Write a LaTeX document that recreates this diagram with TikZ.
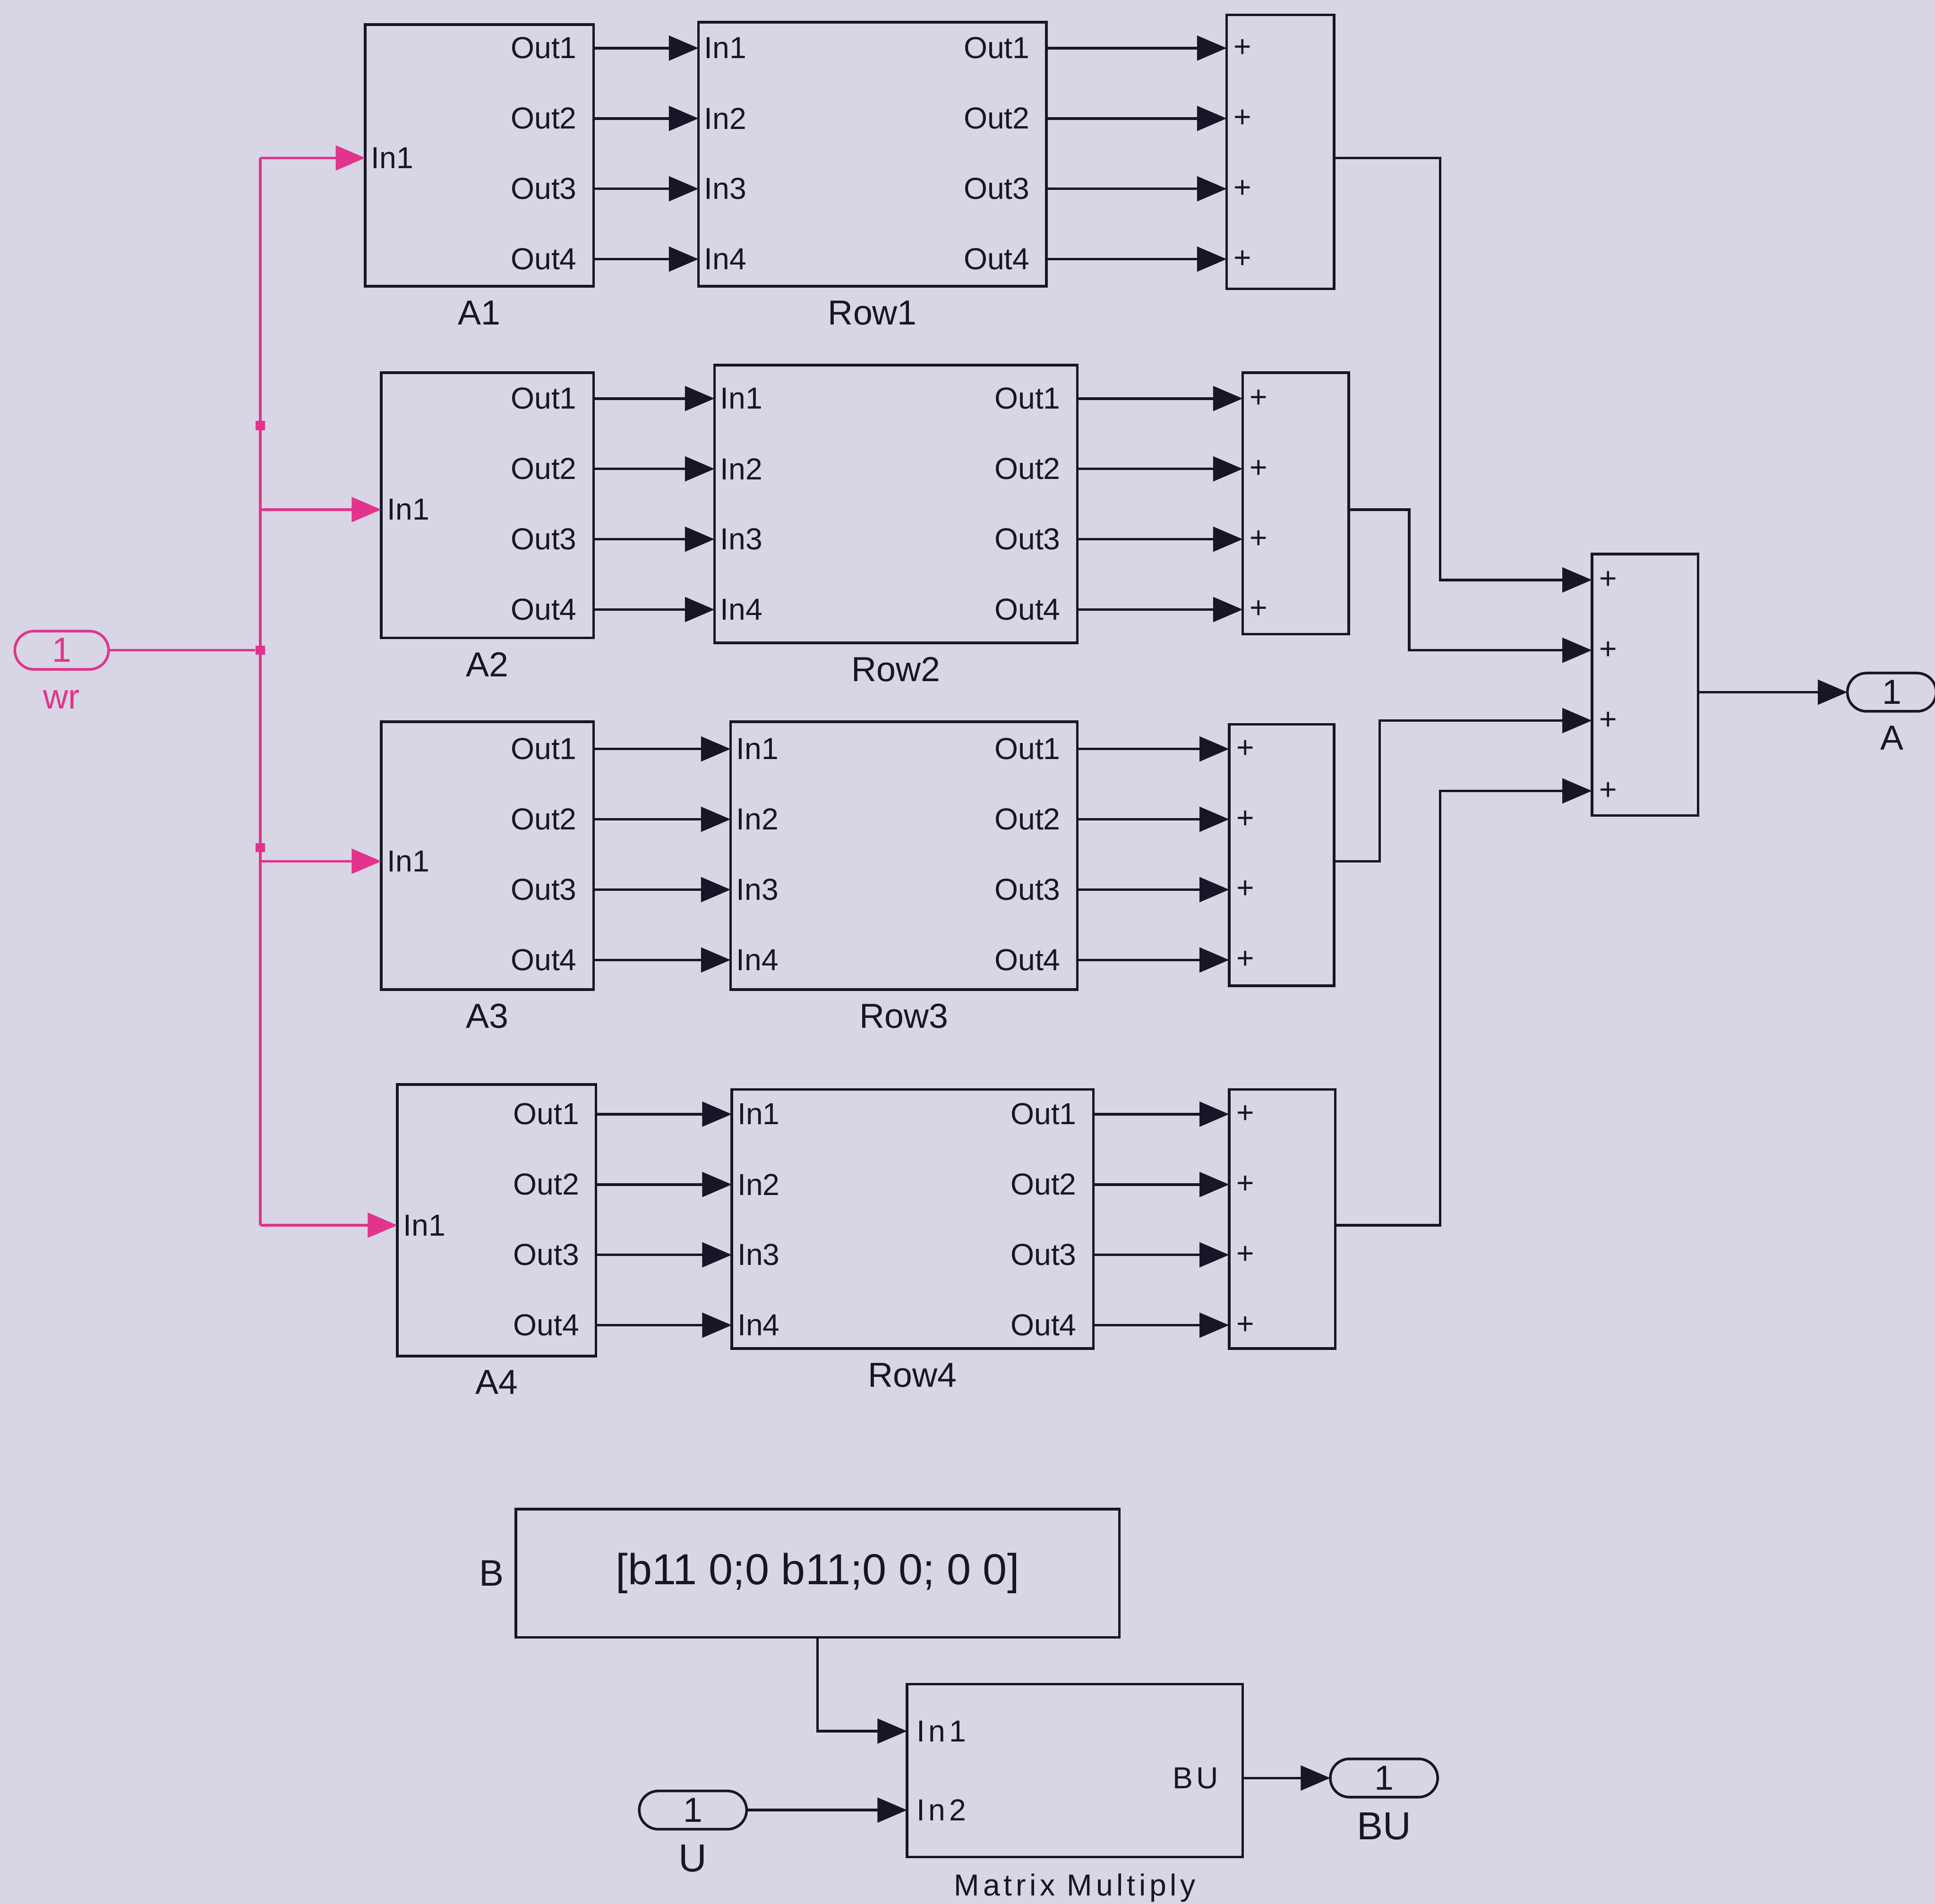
\documentclass[tikz,border=0pt]{standalone}
\usepackage{fontspec}
\setmainfont{Liberation Sans}
\usetikzlibrary{arrows.meta,positioning}
\definecolor{SimBack}{RGB}{216,214,229}
\definecolor{SimLine}{RGB}{22,22,38}
\definecolor{SimPink}{RGB}{226,52,140}
\newcommand{\portfont}{\fontsize{7}{8}\selectfont}
\newcommand{\blockfont}{\fontsize{8}{9.5}\selectfont}
\newcommand{\spacedfont}{\fontsize{7}{8}\selectfont\addfontfeatures{LetterSpace=12}}
\tikzset{
  block/.style={draw=SimLine,line width=0.6pt,inner sep=0pt,outer sep=0pt},
  port/.style={draw=SimLine,rounded corners=1.55mm,line width=0.6pt,
    minimum width=7.6mm,minimum height=3.1mm,inner sep=0pt,outer sep=0pt,
    font=\blockfont,text=SimLine},
  portin/.style={anchor=west,inner sep=0.4mm,font=\portfont,text=SimLine},
  portout/.style={anchor=east,inner sep=0.4mm,xshift=-0.9mm,font=\portfont,text=SimLine},
  sumsign/.style={inner sep=0pt,xshift=1.3mm,font=\fontsize{7}{7}\selectfont,text=SimLine},
  blocklabel/.style={inner sep=0.5mm,font=\blockfont,text=SimLine},
  signal/.style={-{Triangle[length=2.4mm,width=2mm]},line width=0.6pt,draw=SimLine},
  wire/.style={line width=0.6pt,draw=SimLine},
  junction/.style={fill=SimPink,inner sep=0pt,minimum size=0.75mm}
}

\begin{document}
\begin{tikzpicture}[x=0.1mm,y=-0.1mm]
  \fill[SimBack] (0,0) rectangle (1568,1543);
  \useasboundingbox (0,0) rectangle (1568,1543);

  % Input wr and the pink bus
  \node[port,draw=SimPink,text=SimPink] (wr) at (50,527) {1};
  \node[blocklabel,text=SimPink,below=1.1mm of wr] (wrlab) {wr};
  \node[junction] (jwr) at (211,527) {};
  \node[junction] (jup) at (211,345) {};
  \node[junction] (jdn) at (211,687) {};
  \draw[wire,draw=SimPink] (wr.east) -- (jwr);

  % Total sum and output A
  \node[block,minimum width=8.6mm,minimum height=21.2mm] (Stot) at (1333,555) {};
  \coordinate (Stot-out) at (Stot.east |- 0,561);
  \node[port,minimum width=7.2mm] (Aout) at (1533,561) {1};
  \node[blocklabel,below=0.6mm of Aout] (Alab) {A};
  \draw[signal] (Stot-out) -- (Aout.west);

  % Four rows: A block, Row block, sum
  \foreach \k/\acx/\acy/\aw/\ah/\iny/\rcx/\rcy/\rw/\rh/\scx/\scy/\sw/\sh/\py/\bx/\ty in {
      1/388.5/126/185/212/128/707/125/282/214/1037.5/123/87/222/39/1167/470,
      2/395/409.5/172/215/413/726/408.5/294/225/1050/408/86/212/323/1142/527,
      3/395/693.5/172/217/698/732.5/693.5/281/217/1038.5/693/85/212/607/1118/584,
      4/402.5/989/161/220/993/739.5/988/293/210/1039/988/86/210/903/1167/641}
  {
    \node[block,minimum width=\aw*0.1mm,minimum height=\ah*0.1mm] (A\k) at (\acx,\acy) {};
    \node[block,minimum width=\rw*0.1mm,minimum height=\rh*0.1mm] (R\k) at (\rcx,\rcy) {};
    \node[block,minimum width=\sw*0.1mm,minimum height=\sh*0.1mm] (S\k) at (\scx,\scy) {};
    \node[blocklabel,below=0.6mm of A\k] (A\k-lab) {A\k};
    \node[blocklabel,below=0.6mm of R\k] (R\k-lab) {Row\k};

    % pink branch into In1
    \coordinate (bus\k) at (211,\iny);
    \coordinate (A\k-in) at (A\k.west |- 0,\iny);
    \node[portin] (A\k-inlab) at (A\k-in) {In1};
    \draw[signal,draw=SimPink] (bus\k) -- (A\k-in);

    \foreach \p in {1,...,4} {
      \pgfmathsetmacro\yy{\py+57*(\p-1)}
      \coordinate (A\k-o\p) at (A\k.east |- 0,\yy);
      \coordinate (R\k-i\p) at (R\k.west |- 0,\yy);
      \coordinate (R\k-o\p) at (R\k.east |- 0,\yy);
      \coordinate (S\k-i\p) at (S\k.west |- 0,\yy);
      \node[portout] (A\k-olab\p) at (A\k-o\p) {Out\p};
      \node[portin] (R\k-ilab\p) at (R\k-i\p) {In\p};
      \node[portout] (R\k-olab\p) at (R\k-o\p) {Out\p};
      \node[sumsign] (S\k-sign\p) at (S\k-i\p) {+};
      \draw[signal] (A\k-o\p) -- (R\k-i\p);
      \draw[signal] (R\k-o\p) -- (S\k-i\p);
    }

    % row sum into the total sum
    \coordinate (S\k-out) at (S\k.east |- 0,\iny);
    \coordinate (Stot-i\k) at (Stot.west |- 0,\ty);
    \coordinate (bend\k) at (\bx,\ty);
    \node[sumsign] (Stot-sign\k) at (Stot-i\k) {+};
    \draw[signal] (S\k-out) -| (bend\k) -- (Stot-i\k);
  }
  \draw[wire,draw=SimPink] (bus1) -- (bus4);

  % Constant B times U
  \node[block,minimum width=48.9mm,minimum height=10.4mm,
    font=\fontsize{10}{12}\selectfont,text=SimLine] (Bconst) at (662.5,1275) {[b11 0;0 b11;0 0; 0 0]};
  \node[blocklabel,font=\fontsize{8.5}{10}\selectfont,left=0.4mm of Bconst] (Blab) {B};
  \node[block,minimum width=27.2mm,minimum height=14mm] (MM) at (871,1435) {};
  \node[blocklabel,font=\spacedfont,below=0.8mm of MM] (MMlab) {Matrix Multiply};
  \coordinate (MM-i1) at (MM.west |- 0,1403);
  \coordinate (MM-i2) at (MM.west |- 0,1467);
  \coordinate (MM-out) at (MM.east |- 0,1441);
  \node[portin,font=\spacedfont,xshift=0.3mm] (MM-ilab1) at (MM-i1) {In1};
  \node[portin,font=\spacedfont,xshift=0.3mm] (MM-ilab2) at (MM-i2) {In2};
  \node[portout,font=\spacedfont,xshift=-0.6mm] (MM-olab) at (MM-out) {BU};
  \node[port,minimum width=8.7mm] (U) at (561.5,1467) {1};
  \node[blocklabel,font=\fontsize{9}{10}\selectfont,below=0.7mm of U] (Ulab) {U};
  \node[port,minimum width=8.7mm] (BUout) at (1121.5,1441) {1};
  \node[blocklabel,font=\fontsize{9}{10}\selectfont,below=0.7mm of BUout] (BUlab) {BU};
  \draw[signal] (Bconst.south) |- (MM-i1);
  \draw[signal] (U.east) -- (MM-i2);
  \draw[signal] (MM-out) -- (BUout.west);
\end{tikzpicture}
\end{document}
